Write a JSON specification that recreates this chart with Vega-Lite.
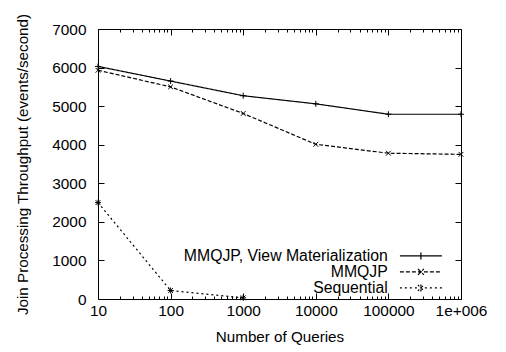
{
  "$schema": "https://vega.github.io/schema/vega-lite/v6.json",
  "width": 363,
  "height": 270,
  "autosize": "none",
  "padding": {"left": 98, "top": 29, "right": 45, "bottom": 53},
  "background": "white",
  "config": {
    "font": "Liberation Sans",
    "view": {"stroke": "black", "strokeWidth": 1},
    "axis": {
      "grid": false,
      "domain": false,
      "tickColor": "black",
      "tickWidth": 1,
      "labelColor": "black",
      "labelFontSize": 15.4,
      "labelFont": "Liberation Sans",
      "titleFont": "Liberation Sans",
      "titleFontSize": 15.2,
      "titleFontWeight": "normal",
      "titleColor": "black"
    }
  },
  "data": {
    "values": [
      {"q": 10, "series": "MMQJP, View Materialization", "v": 6030},
      {"q": 100, "series": "MMQJP, View Materialization", "v": 5650},
      {"q": 1000, "series": "MMQJP, View Materialization", "v": 5270},
      {"q": 10000, "series": "MMQJP, View Materialization", "v": 5060},
      {"q": 100000, "series": "MMQJP, View Materialization", "v": 4790},
      {"q": 1000000, "series": "MMQJP, View Materialization", "v": 4790},
      {"q": 10, "series": "MMQJP", "v": 5930},
      {"q": 100, "series": "MMQJP", "v": 5500},
      {"q": 1000, "series": "MMQJP", "v": 4810},
      {"q": 10000, "series": "MMQJP", "v": 4010},
      {"q": 100000, "series": "MMQJP", "v": 3780},
      {"q": 1000000, "series": "MMQJP", "v": 3750},
      {"q": 10, "series": "Sequential", "v": 2500},
      {"q": 100, "series": "Sequential", "v": 220},
      {"q": 1000, "series": "Sequential", "v": 30}
    ]
  },
  "layer": [
    {
      "mark": {"type": "line", "color": "black", "strokeWidth": 1.2},
      "encoding": {
        "x": {
          "field": "q", "type": "quantitative",
          "scale": {"type": "log", "domain": [10, 1000000], "nice": false},
          "axis": {
            "orient": "bottom",
            "title": "Number of Queries",
            "titlePadding": 8,
            "labelPadding": 10,
            "values": [10,20,30,40,50,60,70,80,90,100,200,300,400,500,600,700,800,900,1000,2000,3000,4000,5000,6000,7000,8000,9000,10000,20000,30000,40000,50000,60000,70000,80000,90000,100000,200000,300000,400000,500000,600000,700000,800000,900000,1000000],
            "labelExpr": "indexof([10,100,1000,10000,100000,1000000], datum.value) >= 0 ? (datum.value == 1000000 ? '1e+006' : format(datum.value, 'd')) : ''",
            "tickSize": {"condition": {"test": "indexof([10,100,1000,10000,100000,1000000], datum.value) >= 0", "value": -6}, "value": -3},
            "labelFlush": false,
            "labelOverlap": false
          }
        },
        "y": {
          "field": "v", "type": "quantitative",
          "scale": {"domain": [0, 7000], "nice": false},
          "axis": {
            "orient": "left",
            "title": "Join Processing Throughput (events/second)",
            "values": [0,1000,2000,3000,4000,5000,6000,7000],
            "format": "d",
            "tickSize": -6,
            "labelPadding": 18,
            "titlePadding": 21
          }
        },
        "strokeDash": {
          "field": "series", "type": "nominal",
          "scale": {
            "domain": ["MMQJP, View Materialization", "MMQJP", "Sequential"],
            "range": [[1, 0], [4, 2], [2, 3]]
          },
          "legend": null
        }
      }
    },
    {
      "mark": {"type": "point", "filled": false, "color": "black", "size": 36, "strokeWidth": 1, "opacity": 1},
      "encoding": {
        "x": {"field": "q", "type": "quantitative", "scale": {"type": "log", "domain": [10, 1000000], "nice": false}, "axis": null},
        "y": {"field": "v", "type": "quantitative", "scale": {"domain": [0, 7000], "nice": false}, "axis": null},
        "shape": {
          "field": "series", "type": "nominal",
          "scale": {
            "domain": ["MMQJP, View Materialization", "MMQJP", "Sequential"],
            "range": ["M-1,0L1,0M0,-1L0,1", "M-0.8,-0.8L0.8,0.8M-0.8,0.8L0.8,-0.8", "M-1,0L1,0M0,-1L0,1M-0.8,-0.8L0.8,0.8M-0.8,0.8L0.8,-0.8"]
          },
          "legend": null
        }
      }
    },
    {
      "mark": {"type": "point", "filled": false, "color": "black", "size": 49, "strokeWidth": 1.2, "opacity": 0},
      "encoding": {
        "x": {
          "field": "q", "type": "quantitative",
          "scale": {"type": "log", "domain": [10, 1000000], "nice": false},
          "axis": {
            "orient": "top", "title": null, "labels": false,
            "values": [10,20,30,40,50,60,70,80,90,100,200,300,400,500,600,700,800,900,1000,2000,3000,4000,5000,6000,7000,8000,9000,10000,20000,30000,40000,50000,60000,70000,80000,90000,100000,200000,300000,400000,500000,600000,700000,800000,900000,1000000],
            "tickSize": {"condition": {"test": "indexof([10,100,1000,10000,100000,1000000], datum.value) >= 0", "value": -6}, "value": -3}
          }
        },
        "y": {
          "field": "v", "type": "quantitative",
          "scale": {"domain": [0, 7000], "nice": false},
          "axis": {"orient": "right", "title": null, "labels": false, "values": [0,1000,2000,3000,4000,5000,6000,7000], "tickSize": -6}
        },
        "shape": {
          "field": "series", "type": "nominal",
          "scale": {
            "domain": ["MMQJP, View Materialization", "MMQJP", "Sequential"],
            "range": ["M-6,0L6,0M0,-1L0,1", "M-6,0L6,0M-0.85,-0.85L0.85,0.85M-0.85,0.85L0.85,-0.85", "M-6,0L6,0M0,-1L0,1M-0.85,-0.85L0.85,0.85M-0.85,0.85L0.85,-0.85"]
          },
          "legend": {
            "title": null,
            "orient": "none",
            "legendX": 315,
            "legendY": 219,
            "padding": 0,
            "symbolSize": 49,
            "symbolOpacity": 1,
            "symbolStrokeColor": "black",
            "symbolFillColor": "transparent",
            "symbolStrokeWidth": 1.2,
            "rowPadding": -2,
            "labelAlign": "right",
            "labelOffset": -41,
            "labelFontSize": 15.8,
            "labelFont": "Liberation Sans",
            "labelColor": "black",
            "labelLimit": 400
          }
        },
        "strokeDash": {
          "field": "series", "type": "nominal",
          "legend": {
            "title": null,
            "orient": "none",
            "legendX": 315,
            "legendY": 219,
            "padding": 0,
            "symbolSize": 49,
            "symbolOpacity": 1,
            "symbolStrokeColor": "black",
            "symbolFillColor": "transparent",
            "symbolStrokeWidth": 1.2,
            "rowPadding": -2,
            "labelAlign": "right",
            "labelOffset": -41,
            "labelFontSize": 15.8,
            "labelFont": "Liberation Sans",
            "labelColor": "black",
            "labelLimit": 400
          }
        }
      }
    }
  ],
  "resolve": {
    "axis": {"x": "independent", "y": "independent"},
    "scale": {"shape": "independent"},
    "legend": {"strokeDash": "independent"}
  }
}
